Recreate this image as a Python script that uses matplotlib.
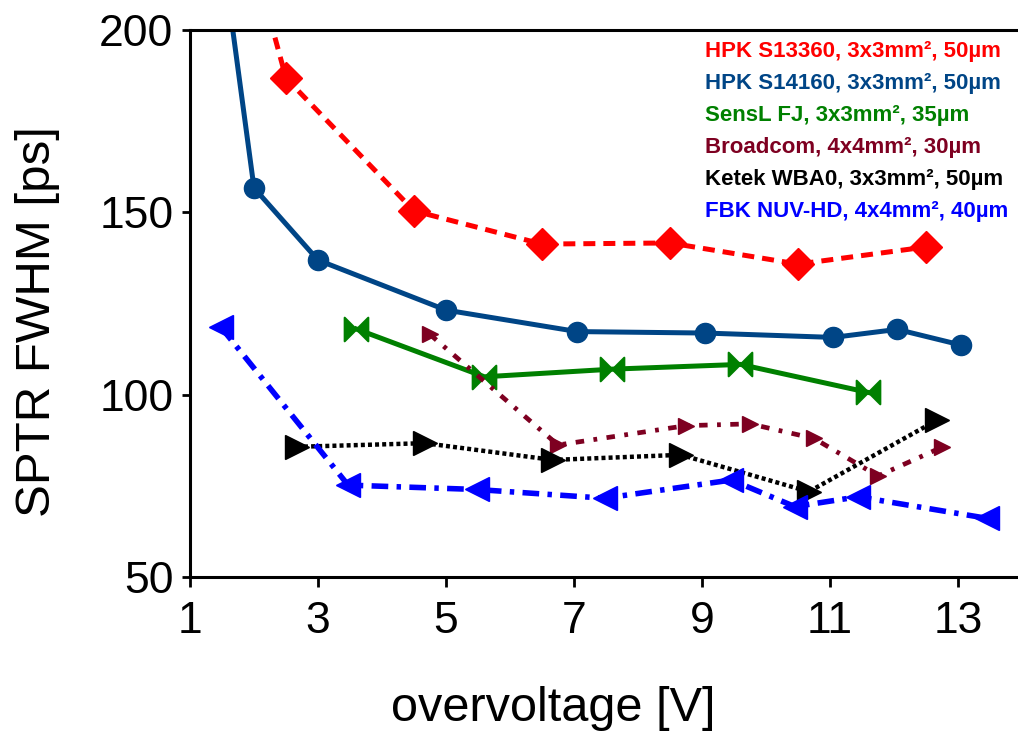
import matplotlib
matplotlib.use("Agg")
import matplotlib.pyplot as plt
from matplotlib.path import Path

plt.rcParams['font.family'] = ['Liberation Sans', 'DejaVu Sans']

# ---- data ----
hpk13360_x = [2.0, 2.5, 4.5, 6.5, 8.5, 10.5, 12.5]
hpk13360_y = [219, 186.8, 150.4, 141.3, 141.6, 135.8, 140.5]

hpk14160_x = [1.5, 2.0, 3.0, 5.0, 7.05, 9.05, 11.05, 12.05, 13.05]
hpk14160_y = [222, 156.7, 136.9, 123.2, 117.3, 116.9, 115.7, 117.9, 113.6]

sensl_x = [3.6, 5.6, 7.6, 9.6, 11.6]
sensl_y = [118.0, 104.9, 107.0, 108.3, 100.6]

broadcom_x = [4.75, 6.75, 8.75, 9.75, 10.75, 11.75, 12.75]
broadcom_y = [116.5, 86.2, 91.5, 92.0, 88.0, 77.7, 85.6]

ketek_x = [2.67, 4.67, 6.67, 8.67, 10.67, 12.67]
ketek_y = [85.7, 86.7, 82.1, 83.5, 73.4, 93.0]

fbk_x = [1.48, 3.47, 5.48, 7.48, 9.46, 10.45, 11.44, 13.45]
fbk_y = [118.6, 75.2, 74.0, 71.6, 76.6, 69.3, 72.0, 66.1]

labels = ["HPK S13360, 3x3mm², 50µm",
          "HPK S14160, 3x3mm², 50µm",
          "SensL FJ, 3x3mm², 35µm",
          "Broadcom, 4x4mm², 30µm",
          "Ketek WBA0, 3x3mm², 50µm",
          "FBK NUV-HD, 4x4mm², 40µm"]
colors = ["#ff0000", "#004586", "#008000", "#7e0021", "#000000", "#0000ff"]

xticks = [1, 3, 5, 7, 9, 11, 13]
yticks = [50, 100, 150, 200]

# ---- figure ----
fig = plt.figure(figsize=(10.18, 7.31), dpi=100)
ax = fig.add_axes([190/1018, 1-577/731, 1-190/1018, (577-30)/731])

bowtie = Path([(-1, 1), (0, 0), (-1, -1), (-1, 1), (1, 1), (0, 0), (1, -1), (1, 1)],
              [Path.MOVETO, Path.LINETO, Path.LINETO, Path.CLOSEPOLY,
               Path.MOVETO, Path.LINETO, Path.LINETO, Path.CLOSEPOLY])

ax.plot(hpk13360_x, hpk13360_y, color=colors[0], lw=3.6, dashes=(2.4, 1.6),
        marker='D', ms=16)
ax.plot(hpk14160_x, hpk14160_y, color=colors[1], lw=3.6, marker='o', ms=14.5)
ax.plot(sensl_x, sensl_y, color=colors[2], lw=3.6, marker=bowtie, ms=17,
        mew=1.5)
ax.plot(broadcom_x, broadcom_y, color=colors[3], lw=3.4,
        dashes=(1.8, 2.0, 0.8, 2.0), marker='>', ms=12)
ax.plot(ketek_x, ketek_y, color=colors[4], lw=3.2, dashes=(0.9, 0.7),
        marker='>', ms=17)
ax.plot(fbk_x, fbk_y, color=colors[5], lw=4, dashes=(3, 1.5, 0.8, 1.5),
        marker='<', ms=17)

ax.set_xlim(1, 1 + 828/64)
ax.set_ylim(50, 200)
ax.set_xticks(xticks)
ax.set_yticks(yticks)
ax.tick_params(axis='both', direction='out', width=2, labelsize=32)
ax.tick_params(axis='x', length=7, pad=10)
ax.tick_params(axis='y', length=6, pad=6)
for s in ['left', 'bottom', 'top']:
    ax.spines[s].set_linewidth(2.2)
ax.spines['right'].set_visible(False)

ax.set_xlabel("overvoltage [V]", fontsize=35)
ax.xaxis.label.set_va('baseline')
ax.xaxis.set_label_coords((553-190)/828, (577-721)/547)
ax.set_ylabel("SPTR FWHM [ps]", fontsize=35.5)
ax.yaxis.set_label_coords((60-190)/828, (577-322)/547)

ys = [51, 83, 115, 147, 179, 211]
for lab, c, y in zip(labels, colors, ys):
    fig.text(705/1018, 1 - y/731, lab, color=c, fontsize=16,
             fontweight='bold', ha='left', va='center')

fig.savefig("out.png", dpi=100)
